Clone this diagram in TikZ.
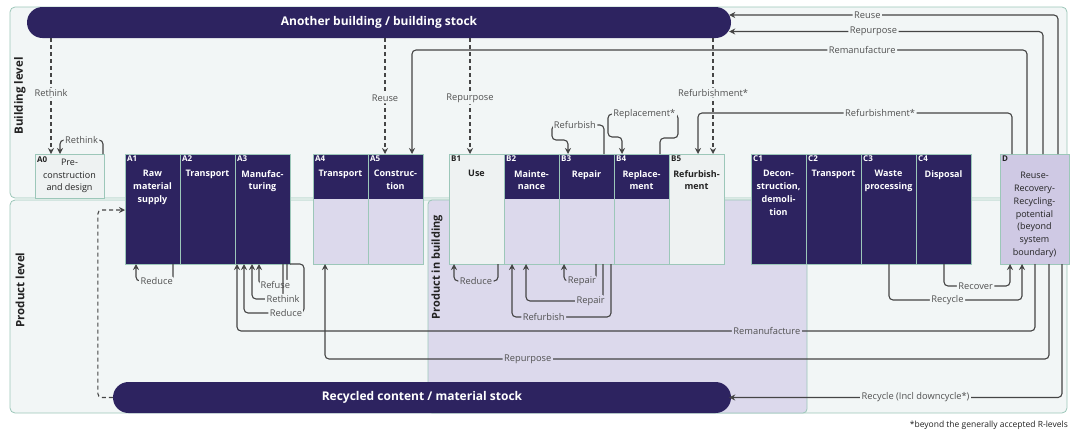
\documentclass[tikz,border=0pt]{standalone}
\usepackage{fontspec}
\setmainfont{Open Sans}
\usetikzlibrary{arrows.meta,positioning,calc}

\definecolor{navy}{HTML}{2D2360}
\definecolor{lav}{HTML}{DCD9EC}
\definecolor{lavD}{HTML}{CFC9E4}
\definecolor{panelbg}{HTML}{F2F6F6}
\definecolor{edge}{HTML}{9CC7B9}
\definecolor{boxbg}{HTML}{EEF2F2}
\definecolor{ink}{HTML}{454545}
\definecolor{inktext}{HTML}{505050}
\definecolor{dark}{HTML}{222222}

\begin{document}
\begin{tikzpicture}[->,>={Stealth[length=6pt,width=6pt]},x=1pt,y=-1pt]
  \tikzstyle{stage}=[draw=edge, line width=0.8pt, minimum width=55pt, minimum height=110pt,
                     inner sep=0pt, outer sep=0pt, anchor=north west]
  \tikzstyle{darkbox}=[stage, fill=navy]
  \tikzstyle{lightbox}=[stage, fill=boxbg]
  \tikzstyle{halfbox}=[stage, fill=lav, path picture={\fill[navy] (path picture bounding box.north west)
                     rectangle ([yshift=-45pt]path picture bounding box.north east);}]
  \tikzstyle{code}=[anchor=north west, inner sep=2pt, font=\bfseries\fontsize{8}{9}\selectfont]
  \tikzstyle{ttl}=[anchor=north, align=center, inner sep=0pt, font=\bfseries\fontsize{9}{12.8}\selectfont]
  \tikzstyle{pill}=[fill=navy, text=white, rounded corners=15.5pt, minimum height=31pt, inner sep=0pt,
                    font=\bfseries\fontsize{12}{14}\selectfont]
  \tikzstyle{panel}=[-, draw=edge, fill=panelbg, line width=0.8pt, rounded corners=5pt]
  \tikzstyle{side}=[rotate=90, text=dark, font=\bfseries\fontsize{11.5}{13}\selectfont]
  \tikzstyle{flow}=[draw=ink, line width=1.1pt, rounded corners=4pt]
  \tikzstyle{dflow}=[flow, dash pattern=on 4pt off 3pt]
  \tikzstyle{lbl}=[fill=panelbg, text=inktext, inner sep=1.5pt, font=\fontsize{9.3}{10}\selectfont]
  \tikzstyle{lbll}=[lbl, fill=lav]

  \useasboundingbox (0,0) rectangle (1071,432);

  % levels
  \draw[panel] (10,7) rectangle (1067,198);
  \draw[panel] (10,200) rectangle (1067,413);
  \draw[panel, fill=lav, rounded corners=4pt] (428,200) rectangle (807,413);
  \node[side] (blevel) at (20,96) {Building level};
  \node[side] (plevel) at (20,290) {Product level};
  \node[side, font=\bfseries\fontsize{11}{13}\selectfont] (pinb) at (437,267) {Product in building};

  % stocks
  \node[pill, minimum width=704pt] (top) at (379,22.5) {Another building / building stock};
  \node[pill, minimum width=618pt] (stock) at (422,397.5) {Recycled content / material stock};

  % life cycle stages
  \node[lightbox, minimum width=69pt, minimum height=44pt] (A0) at (35,154) {};
  \node[darkbox]                   (A1) at (125,154) {};
  \node[darkbox, right=0pt of A1]  (A2) {};
  \node[darkbox, right=0pt of A2]  (A3) {};
  \node[halfbox]                   (A4) at (313,154) {};
  \node[halfbox, right=0pt of A4]  (A5) {};
  \node[lightbox]                  (B1) at (449,154) {};
  \node[halfbox, right=0pt of B1]  (B2) {};
  \node[halfbox, right=0pt of B2]  (B3) {};
  \node[halfbox, right=0pt of B3]  (B4) {};
  \node[lightbox, right=0pt of B4] (B5) {};
  \node[darkbox]                   (C1) at (751,154) {};
  \node[darkbox, right=0pt of C1]  (C2) {};
  \node[darkbox, right=0pt of C2]  (C3) {};
  \node[darkbox, right=0pt of C3]  (C4) {};
  \node[stage, fill=lavD, minimum width=69pt] (D) at (1000,154) {};

  \node[code, text=dark]  (A0c) at (A0.north west) {A0};
  \node[code, text=white] (A1c) at (A1.north west) {A1};
  \node[code, text=white] (A2c) at (A2.north west) {A2};
  \node[code, text=white] (A3c) at (A3.north west) {A3};
  \node[code, text=white] (A4c) at (A4.north west) {A4};
  \node[code, text=white] (A5c) at (A5.north west) {A5};
  \node[code, text=dark]  (B1c) at (B1.north west) {B1};
  \node[code, text=white] (B2c) at (B2.north west) {B2};
  \node[code, text=white] (B3c) at (B3.north west) {B3};
  \node[code, text=white] (B4c) at (B4.north west) {B4};
  \node[code, text=dark]  (B5c) at (B5.north west) {B5};
  \node[code, text=white] (C1c) at (C1.north west) {C1};
  \node[code, text=white] (C2c) at (C2.north west) {C2};
  \node[code, text=white] (C3c) at (C3.north west) {C3};
  \node[code, text=white] (C4c) at (C4.north west) {C4};
  \node[code, text=dark]  (Dc)  at (D.north west)  {D};

  \node[ttl, text=dark, font=\fontsize{9}{12.5}\selectfont] (A0t) at ([yshift=-5pt]A0.north) {Pre-\\construction\\and design};
  \node[ttl, text=white] (A1t) at ([yshift=-16pt]A1.north) {Raw\\material\\supply};
  \node[ttl, text=white] (A2t) at ([yshift=-16pt]A2.north) {Transport};
  \node[ttl, text=white] (A3t) at ([yshift=-16pt]A3.north) {Manufac-\\turing};
  \node[ttl, text=white] (A4t) at ([yshift=-16pt]A4.north) {Transport};
  \node[ttl, text=white] (A5t) at ([yshift=-16pt]A5.north) {Construc-\\tion};
  \node[ttl, text=dark]  (B1t) at ([yshift=-16pt]B1.north) {Use};
  \node[ttl, text=white] (B2t) at ([yshift=-16pt]B2.north) {Mainte-\\nance};
  \node[ttl, text=white] (B3t) at ([yshift=-16pt]B3.north) {Repair};
  \node[ttl, text=white] (B4t) at ([yshift=-16pt]B4.north) {Replace-\\ment};
  \node[ttl, text=dark]  (B5t) at ([yshift=-16pt]B5.north) {Refurbish-\\ment};
  \node[ttl, text=white] (C1t) at ([yshift=-16pt]C1.north) {Decon-\\struction,\\demoli-\\tion};
  \node[ttl, text=white] (C2t) at ([yshift=-16pt]C2.north) {Transport};
  \node[ttl, text=white] (C3t) at ([yshift=-16pt]C3.north) {Waste\\processing};
  \node[ttl, text=white] (C4t) at ([yshift=-16pt]C4.north) {Disposal};
  \node[ttl, text=dark, font=\fontsize{9}{12.8}\selectfont] (Dt) at ([yshift=-18pt]D.north)
       {Reuse-\\Recovery-\\Recycling-\\potential\\(beyond\\system\\boundary)};

  % building level loops
  \draw[dflow] ([xshift=16pt]A0.north west |- top.south) -- node[lbl,pos=0.47] {Rethink} ([xshift=16pt]A0.north west);
  \draw[flow] ([xshift=-1pt]A0.north east) -- ++(0,-14) -| node[lbl,pos=0.25] {Rethink} ([xshift=25pt]A0.north west);
  \draw[dflow] ([xshift=17pt]A5.north west |- top.south) -- node[lbl,pos=0.52] {Reuse} ([xshift=17pt]A5.north west);
  \draw[dflow] ([xshift=21pt]B1.north west |- top.south) -- node[lbl,pos=0.52] {Repurpose} ([xshift=21pt]B1.north west);
  \draw[dflow] ([xshift=44pt]B5.north west |- top.south) -- node[lbl,pos=0.47] {Refurbishment*} ([xshift=44pt]B5.north west);
  \draw[flow] ([xshift=58pt]D.north west) |- node[lbl,pos=0.79] {Reuse} ([xshift=-2pt,yshift=7.5pt]top.east);
  \draw[flow] ([xshift=43pt]D.north west) |- node[lbl,pos=0.77] {Repurpose} ([xshift=-2pt,yshift=-9pt]top.east);
  \draw[flow] ([xshift=27pt]D.north west) -- ++(0,-104) -| node[lbl,pos=0.134] {Remanufacture} ([xshift=44pt]A5.north west);
  \draw[flow] ([xshift=12pt]D.north west) -- ++(0,-41) -| node[lbl,pos=0.21] {Refurbishment*} ([xshift=29pt]B5.north west);
  \draw[flow] ([xshift=45pt]B3.north west) -- ++(0,-29) -| node[lbl,pos=0.28] {Refurbish} ++(-52,15)
              -| ([xshift=9pt]B3.north west);
  \draw[flow] ([xshift=46pt]B4.north west) -- ++(0,-16) -| ++(18,-24)
              -| node[lbl,pos=0.24] {Replacement*} ++(-70,23) -| ([xshift=8pt]B4.north west);

  % product level loops
  \draw[flow] ([xshift=48pt]A1.south west) -- ++(0,17) -| node[lbl,pos=0.22] {Reduce} ([xshift=11pt]A1.south west);
  \draw[flow] ([xshift=52pt]A3.south west) -- ++(0,21) -| node[lbl,pos=0.21] {Refuse} ([xshift=24pt]A3.south west);
  \draw[flow] ([xshift=48pt]A3.south west) -- ++(0,35) -| node[lbl,pos=0] {Rethink} ([xshift=17pt]A3.south west);
  \draw[flow] (A3.south east) -- ++(14,0) -- ++(0,49) -| node[lbl,pos=0.15] {Reduce} ([xshift=9pt]A3.south west);
  \draw[flow] ([xshift=35pt]D.south west) -- ++(0,67) -| node[lbll,pos=0.168] {Remanufacture} ([xshift=2pt]A3.south west);
  \draw[flow] ([xshift=49pt]D.south west) -- ++(0,95) -| node[lbll,pos=0.36] {Repurpose} ([xshift=12pt]A4.south west);
  \draw[flow] ([xshift=62pt]D.south west) |- node[lbl,pos=0.72] {Recycle (Incl downcycle*)} ([xshift=-2pt]stock.east);
  \draw[dflow] (stock.west) -- ++(-15,0) |- ([yshift=-56pt]A1.north west);
  \draw[flow] ([xshift=49pt]B1.south west) -- ++(0,17) -| node[lbll,pos=0.25] {Reduce} ([xshift=5pt]B1.south west);
  \draw[flow] ([xshift=37pt]B3.south west) -- ++(0,17) -| node[lbll,pos=0.22] {Repair} ([xshift=5pt]B3.south west);
  \draw[flow] ([xshift=44pt]B3.south west) -- ++(0,37) -| node[lbll,pos=0.08] {Repair} ([xshift=22pt]B2.south west);
  \draw[flow] ([xshift=52pt]B3.south west) -- ++(0,53) -| node[lbll,pos=0.34] {Refurbish} ([xshift=8pt]B2.south west);
  \draw[flow] ([xshift=28pt]C4.south west) -- ++(0,22) -| node[lbl,pos=0.24] {Recover} ([xshift=10pt]D.south west);
  \draw[flow] ([xshift=28pt]C3.south west) -- ++(0,36) -| node[lbl,pos=0.22] {Recycle} ([xshift=22pt]D.south west);

  \node[anchor=east, text=dark, inner sep=0pt, font=\fontsize{8.5}{10}\selectfont] (note) at (1068,425)
       {*beyond the generally accepted R-levels};
\end{tikzpicture}
\end{document}
